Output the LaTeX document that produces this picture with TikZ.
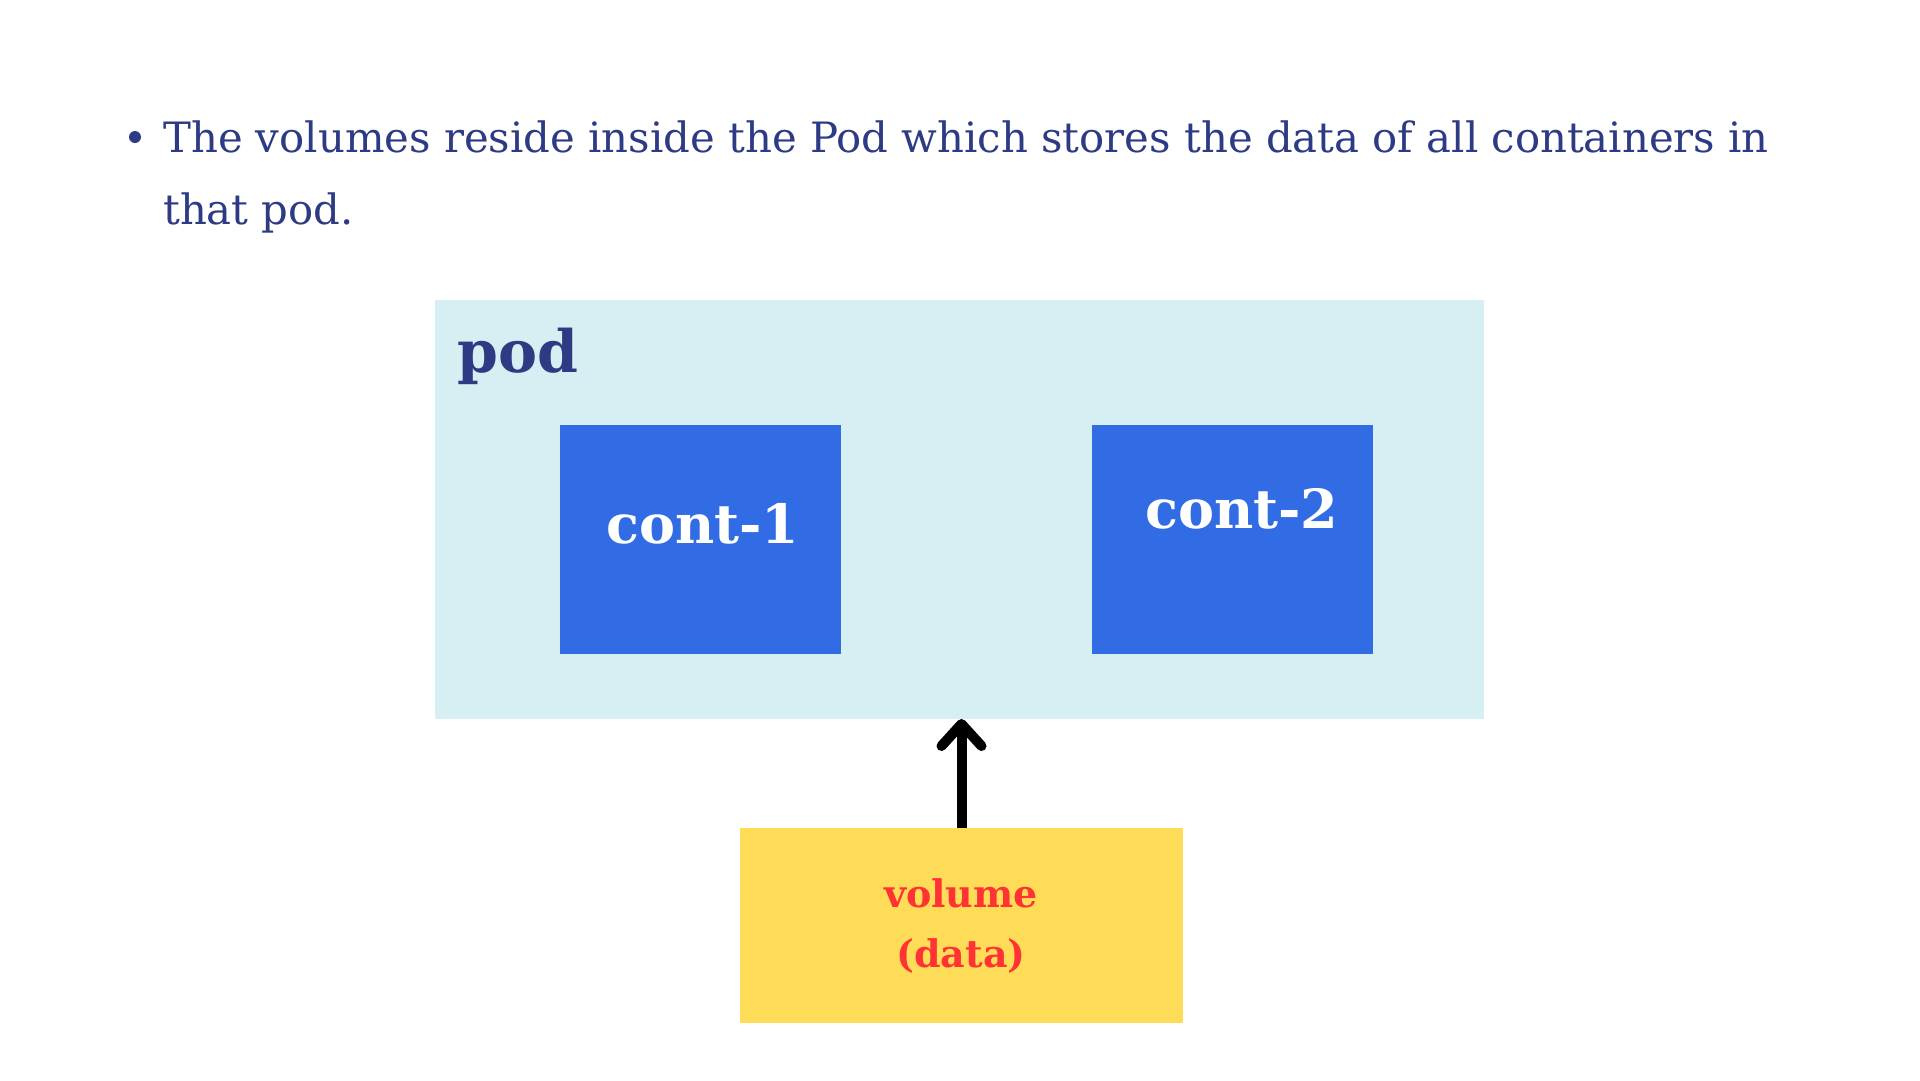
\documentclass[tikz,border=0pt]{standalone}
\usepackage{fontspec}
\setmainfont{DejaVu Serif}
\usetikzlibrary{arrows.meta}
\definecolor{textblue}{HTML}{2D3A84}
\definecolor{podfill}{HTML}{D6EFF3}
\definecolor{contblue}{HTML}{326CE5}
\definecolor{volyellow}{HTML}{FFDC58}
\definecolor{volred}{HTML}{FF3333}
\tikzset{
  box/.style={draw=none, inner sep=0pt, outer sep=0pt, anchor=north west},
  bodytext/.style={anchor=base west, inner sep=0pt, text=textblue, font=\fontsize{41.8}{46}\selectfont},
  contlabel/.style={anchor=base west, inner sep=0pt, text=white, font=\fontsize{54}{60}\selectfont\bfseries},
  vollabel/.style={anchor=base, inner sep=0pt, text=volred, font=\fontsize{38}{42}\selectfont\bfseries},
  connector/.style={draw=black, line width=10pt, line cap=butt, -{Straight Barb[length=22pt,width=40pt,round]}}
}
\begin{document}
\begin{tikzpicture}[x=1pt,y=-1pt]
\useasboundingbox[fill=white] (0,0) rectangle (1920,1080);
% bullet text
\node[circle, fill=textblue, inner sep=0pt, minimum size=12pt] (bullet) at (135,137) {};
\node[bodytext] (line1) at (163,152) {The volumes reside inside the Pod which stores the data of all containers in};
\node[bodytext] (line2) at (163,224) {that pod.};
% pod
\node[box, fill=podfill, minimum width=1049pt, minimum height=419pt] (pod) at (435,300) {};
\node[anchor=base west, inner sep=0pt, text=textblue, font=\fontsize{58.5}{64}\selectfont\bfseries] (podlabel) at (457,372) {pod};
% containers
\node[box, fill=contblue, minimum width=281pt, minimum height=229pt] (c1) at (560,425) {};
\node[box, fill=contblue, minimum width=281pt, minimum height=229pt] (c2) at (1092,425) {};
\node[contlabel] (c1label) at (606,543) {cont-1};
\node[contlabel] (c2label) at (1145,528) {cont-2};
% volume
\node[box, fill=volyellow, minimum width=443pt, minimum height=195pt] (vol) at (740,828) {};
\node[vollabel] (vl1) at (961,907) {volume};
\node[vollabel] (vl2) at (961,967) {(data)};
% connector
\draw[connector] (vol.north) -- (vol.north |- pod.south);
\end{tikzpicture}
\end{document}
